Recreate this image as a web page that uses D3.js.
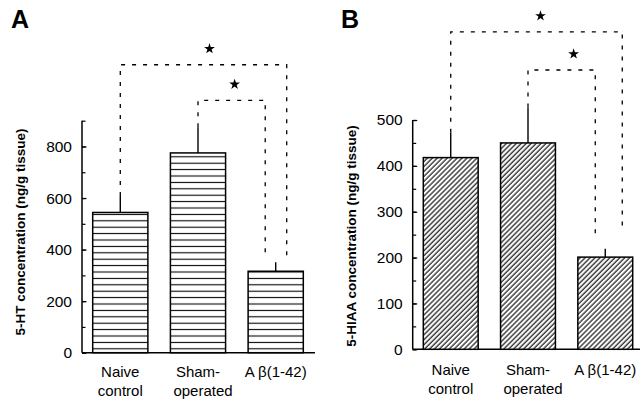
<!DOCTYPE html>
<html>
<head>
<meta charset="utf-8">
<script src="https://cdn.jsdelivr.net/npm/d3@7"></script>
<style>
  body { margin: 0; background: #fff; }
  text { font-family: "Liberation Sans", Arial, sans-serif; fill: #000; }
</style>
</head>
<body>
<svg id="chart" width="640" height="402"></svg>
<script>
// data
const categories = ['Naive control', 'Sham-operated', 'A β(1-42)']
const htValues = [544, 775, 316]
const htErrors = [64, 100, 35]
const hiaaValues = [418, 450, 201]
const hiaaErrors = [54, 77, 18]
const htTicks = [0, 200, 400, 600, 800]
const hiaaTicks = [0, 100, 200, 300, 400, 500]
// significance brackets: from bar, to bar, level of the top line, lower end of the right leg
const htBrackets = [{from: 0, to: 2, level: 1117, end: 375}, {from: 1, to: 2, level: 979, end: 375}]
const hiaaBrackets = [{from: 0, to: 2, level: 692, end: 256}, {from: 1, to: 2, level: 609, end: 243}]

let svg = d3.select('#chart')
svg.append('rect').attr('width', 640).attr('height', 402).attr('fill', '#fff')

let defs = svg.append('defs')

// horizontal stripes
let pH = defs.append('pattern').attr('id', 'hstripe')
  .attr('patternUnits', 'userSpaceOnUse').attr('width', 10).attr('height', 6.4)
pH.append('rect').attr('width', 10).attr('height', 6.4).attr('fill', '#fff')
pH.append('line').attr('x1', 0).attr('x2', 10).attr('y1', 3.2).attr('y2', 3.2)
  .attr('stroke', '#000').attr('stroke-width', 1.1)

// diagonal hatching "/"
let pD = defs.append('pattern').attr('id', 'dstripe')
  .attr('patternUnits', 'userSpaceOnUse').attr('width', 3.5).attr('height', 10)
  .attr('patternTransform', 'rotate(45)')
pD.append('rect').attr('width', 3.5).attr('height', 10).attr('fill', '#fff')
pD.append('line').attr('x1', 1).attr('x2', 1).attr('y1', 0).attr('y2', 10)
  .attr('stroke', '#000').attr('stroke-width', 1.1)

let drawPanel = function (cfg) {
  let g = svg.append('g')
  let y = d3.scaleLinear().domain(cfg.domain).range([cfg.y0, cfg.y1])
  let x = d3.scaleBand().domain(categories).range(cfg.barRange).paddingInner(0.29).paddingOuter(0)
  let cx = i => x(categories[i]) + x.bandwidth() / 2

  // panel letter
  g.append('text').attr('x', cfg.letterX).attr('y', 28)
    .style('font-size', '25px').style('font-weight', 'bold').text(cfg.letter)

  // y axis: minor ticks
  let minor = d3.range(0, cfg.domain[1] + 1, cfg.minor)
  g.append('g').attr('transform', `translate(${cfg.axisX},0)`)
    .call(d3.axisLeft(y).tickValues(minor).tickSize(-3.5).tickSizeOuter(0).tickFormat(''))
    .call(a => a.select('.domain').remove())
    .call(a => a.selectAll('line').attr('stroke-width', 1.2))
  // y axis: labelled ticks
  g.append('g').attr('transform', `translate(${cfg.axisX},0)`)
    .call(d3.axisLeft(y).tickValues(cfg.ticks).tickSize(-4.5).tickSizeOuter(0).tickPadding(10))
    .call(a => a.select('.domain').remove())
    .call(a => a.selectAll('line').attr('stroke-width', 1.2))
    .call(a => a.selectAll('text').style('font-size', '15.5px')
      .style('font-family', '"Liberation Sans", Arial, sans-serif'))
  g.append('line').attr('x1', cfg.axisX).attr('x2', cfg.axisX)
    .attr('y1', y(cfg.domain[1])).attr('y2', y(0)).attr('stroke', '#000').attr('stroke-width', 1.5)
  g.append('line').attr('x1', cfg.axisX).attr('x2', cfg.axisEnd)
    .attr('y1', y(0)).attr('y2', y(0)).attr('stroke', '#000').attr('stroke-width', 1.5)

  // y title
  g.append('text').attr('transform', `translate(${cfg.titleX},${cfg.titleY}) rotate(-90)`)
    .attr('text-anchor', 'middle').attr('dy', '0.35em')
    .style('font-size', '13.5px').style('font-weight', 'bold').text(cfg.title)

  // bars
  g.selectAll('.bar').data(cfg.values).enter().append('rect')
    .attr('x', (d, i) => x(categories[i])).attr('width', x.bandwidth())
    .attr('y', d => y(d)).attr('height', d => y(0) - y(d))
    .attr('fill', `url(#${cfg.pattern})`).attr('stroke', '#000').attr('stroke-width', 1.5)

  // error bars (upper only)
  g.selectAll('.err').data(cfg.values).enter().append('line')
    .attr('x1', (d, i) => cx(i)).attr('x2', (d, i) => cx(i))
    .attr('y1', d => y(d)).attr('y2', (d, i) => y(d + cfg.errors[i]))
    .attr('stroke', '#000').attr('stroke-width', 1.4)

  // brackets
  cfg.brackets.forEach((b, k) => {
    let xl = cx(b.from)
    let xr = cx(b.to) + cfg.legOffset[k]
    let yl = y(cfg.values[b.from] + cfg.errors[b.from])
    let yt = y(b.level)
    g.append('path')
      .attr('d', `M${xl},${yl} L${xl},${yt} L${xr},${yt} L${xr},${y(b.end)}`)
      .attr('fill', 'none').attr('stroke', '#000').attr('stroke-width', 1.3)
      .attr('stroke-dasharray', '4,7')
    g.append('path').attr('d', d3.symbol(d3.symbolStar, 36)())
      .attr('transform', `translate(${(xl + xr) / 2 + cfg.starShift[k]},${yt - 16})`)
      .attr('fill', '#000')
  })

  // category labels
  categories.forEach((c, i) => {
    let parts = c === 'A β(1-42)' ? [c] : c === 'Sham-operated' ? ['Sham-', 'operated'] : c.split(' ')
    parts.forEach((p, j) => {
      g.append('text').attr('x', cx(i) + (p === 'operated' ? 5 : 0)).attr('y', cfg.labelY + j * 19)
        .attr('text-anchor', 'middle').style('font-size', '15px').text(p)
    })
  })
}

drawPanel({
  letter: 'A', letterX: 11, values: htValues, errors: htErrors, ticks: htTicks,
  domain: [0, 900], minor: 100, y0: 352.7, y1: 120.7, axisX: 82, axisEnd: 315,
  barRange: [92.7, 303.3], pattern: 'hstripe', brackets: htBrackets, legOffset: [11, -10.5],
  starShift: [6, 3], title: '5-HT concentration (ng/g tissue)', titleX: 20, titleY: 232, labelY: 377
})

drawPanel({
  letter: 'B', letterX: 341, values: hiaaValues, errors: hiaaErrors, ticks: hiaaTicks,
  domain: [0, 500], minor: 50, y0: 349.3, y1: 120, axisX: 412.7, axisEnd: 640,
  barRange: [423.3, 632.7], pattern: 'dstripe', brackets: hiaaBrackets, legOffset: [17, -10],
  starShift: [4, 12], title: '5-HIAA concentration (ng/g tissue)', titleX: 351.7, titleY: 236, labelY: 375
})
</script>
</body>
</html>
